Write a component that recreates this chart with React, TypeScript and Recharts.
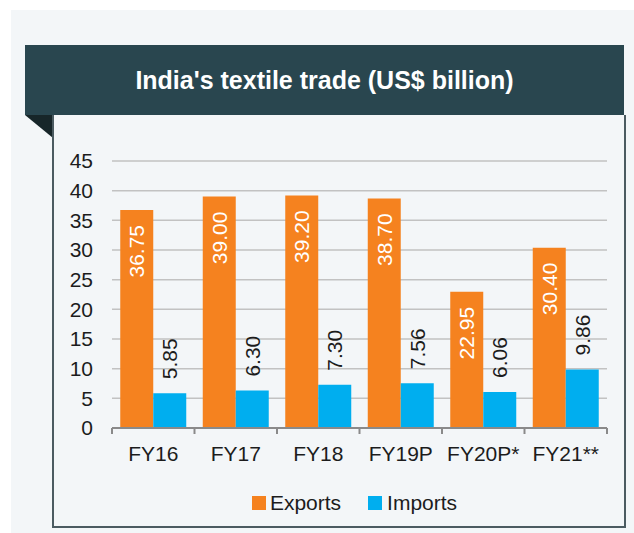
import { BarChart, Bar, XAxis, YAxis, CartesianGrid, LabelList } from "recharts"

const years = ["FY16", "FY17", "FY18", "FY19P", "FY20P*", "FY21**"]
const exportsBn = [36.75, 39.0, 39.2, 38.7, 22.95, 30.4]
const importsBn = [5.85, 6.3, 7.3, 7.56, 6.06, 9.86]
const yTicks = [0, 5, 10, 15, 20, 25, 30, 35, 40, 45]

const data = years.map((name, i) => ({ name, exports: exportsBn[i], imports: importsBn[i] }))

const FONT = '"Liberation Sans", Arial, Helvetica, sans-serif'
const ORANGE = "#f5821f"
const BLUE = "#00aeef"
const TEXT = "#1c1c1c"

function ExportLabel(props: any) {
  const { x, y, width, value } = props
  const cx = x + width / 2
  const ty = y + 15
  return (
    <text
      x={cx}
      y={ty}
      transform={`rotate(-90, ${cx}, ${ty})`}
      textAnchor="end"
      dominantBaseline="central"
      fill="#ffffff"
      fontSize={21}
      fontFamily={FONT}
    >
      {Number(value).toFixed(2)}
    </text>
  )
}

function ImportLabel(props: any) {
  const { x, y, width, value } = props
  const cx = x + width / 2
  const ty = y - 14
  return (
    <text
      x={cx}
      y={ty}
      transform={`rotate(-90, ${cx}, ${ty})`}
      textAnchor="start"
      dominantBaseline="central"
      fill={TEXT}
      fontSize={21}
      fontFamily={FONT}
    >
      {Number(value).toFixed(2)}
    </text>
  )
}

function YearTick(props: any) {
  const { x, y, payload, index, visibleTicksCount } = props
  const half = payload.offset ?? 41
  const last = index === visibleTicksCount - 1
  return (
    <g>
      <line x1={x - half} x2={x - half} y1={y} y2={y + 6} stroke="#8a8a8a" strokeWidth={2} />
      {last && <line x1={x + half} x2={x + half} y1={y} y2={y + 6} stroke="#8a8a8a" strokeWidth={2} />}
      <text x={x} y={y + 33} textAnchor="middle" fill={TEXT} fontSize={21} fontFamily={FONT}>
        {payload.value}
      </text>
    </g>
  )
}

export default function App() {
  return (
    <div style={{ position: "absolute", left: 0, top: 0, width: 634, height: 533, background: "#ffffff", overflow: "hidden" }}>
      <div style={{ position: "absolute", left: 11, top: 10, right: 0, bottom: 0, background: "#f3f6f8" }} />
      <div
        style={{
          position: "absolute",
          left: 25,
          top: 45,
          width: 599,
          height: 70,
          background: "#29464f",
          color: "#ffffff",
          fontFamily: FONT,
          fontWeight: 700,
          fontSize: 25,
          lineHeight: "70px",
          textAlign: "center",
        }}
      >
        India's textile trade (US$ billion)
      </div>
      <svg style={{ position: "absolute", left: 25, top: 115 }} width={28} height={23}>
        <polygon points="0,0 28,0 28,23" fill="#172629" />
      </svg>
      <div
        style={{
          position: "absolute",
          left: 52,
          top: 115,
          width: 570,
          height: 411,
          borderLeft: "2px solid #4b5b61",
          borderRight: "2px solid #4b5b61",
          borderBottom: "2px solid #4b5b61",
          background: "#f3f6f8",
        }}
      />
      <div style={{ position: "absolute", left: 0, top: 0 }}>
        <BarChart
          width={634}
          height={533}
          data={data}
          margin={{ top: 161, right: 27, left: 52, bottom: 65 }}
          barCategoryGap="10%"
          barGap={0}
        >
          <CartesianGrid horizontal vertical={false} stroke="#c2c2c2" strokeWidth={1.5} />
          <YAxis
            width={60}
            domain={[0, 45]}
            ticks={yTicks}
            interval={0}
            axisLine={false}
            tickLine={false}
            tickSize={0}
            tickMargin={19}
            tick={{ fill: TEXT, fontSize: 21, fontFamily: FONT }}
          />
          <XAxis
            dataKey="name"
            height={40}
            interval={0}
            axisLine={{ stroke: "#8a8a8a", strokeWidth: 2 }}
            tickLine={false}
            tickSize={0}
            tickMargin={0}
            tick={<YearTick />}
          />
          <Bar dataKey="exports" fill={ORANGE} isAnimationActive={false}>
            <LabelList dataKey="exports" content={<ExportLabel />} />
          </Bar>
          <Bar dataKey="imports" fill={BLUE} isAnimationActive={false}>
            <LabelList dataKey="imports" content={<ImportLabel />} />
          </Bar>
        </BarChart>
      </div>
      <div
        style={{
          position: "absolute",
          left: 0,
          top: 491,
          width: 709,
          display: "flex",
          justifyContent: "center",
          alignItems: "center",
          fontFamily: FONT,
          fontSize: 21,
          color: TEXT,
          lineHeight: "24px",
        }}
      >
        <span style={{ display: "inline-block", width: 14, height: 14, background: ORANGE, marginRight: 4 }} />
        <span style={{ marginRight: 27 }}>Exports</span>
        <span style={{ display: "inline-block", width: 14, height: 14, background: BLUE, marginRight: 5 }} />
        <span>Imports</span>
      </div>
    </div>
  )
}
